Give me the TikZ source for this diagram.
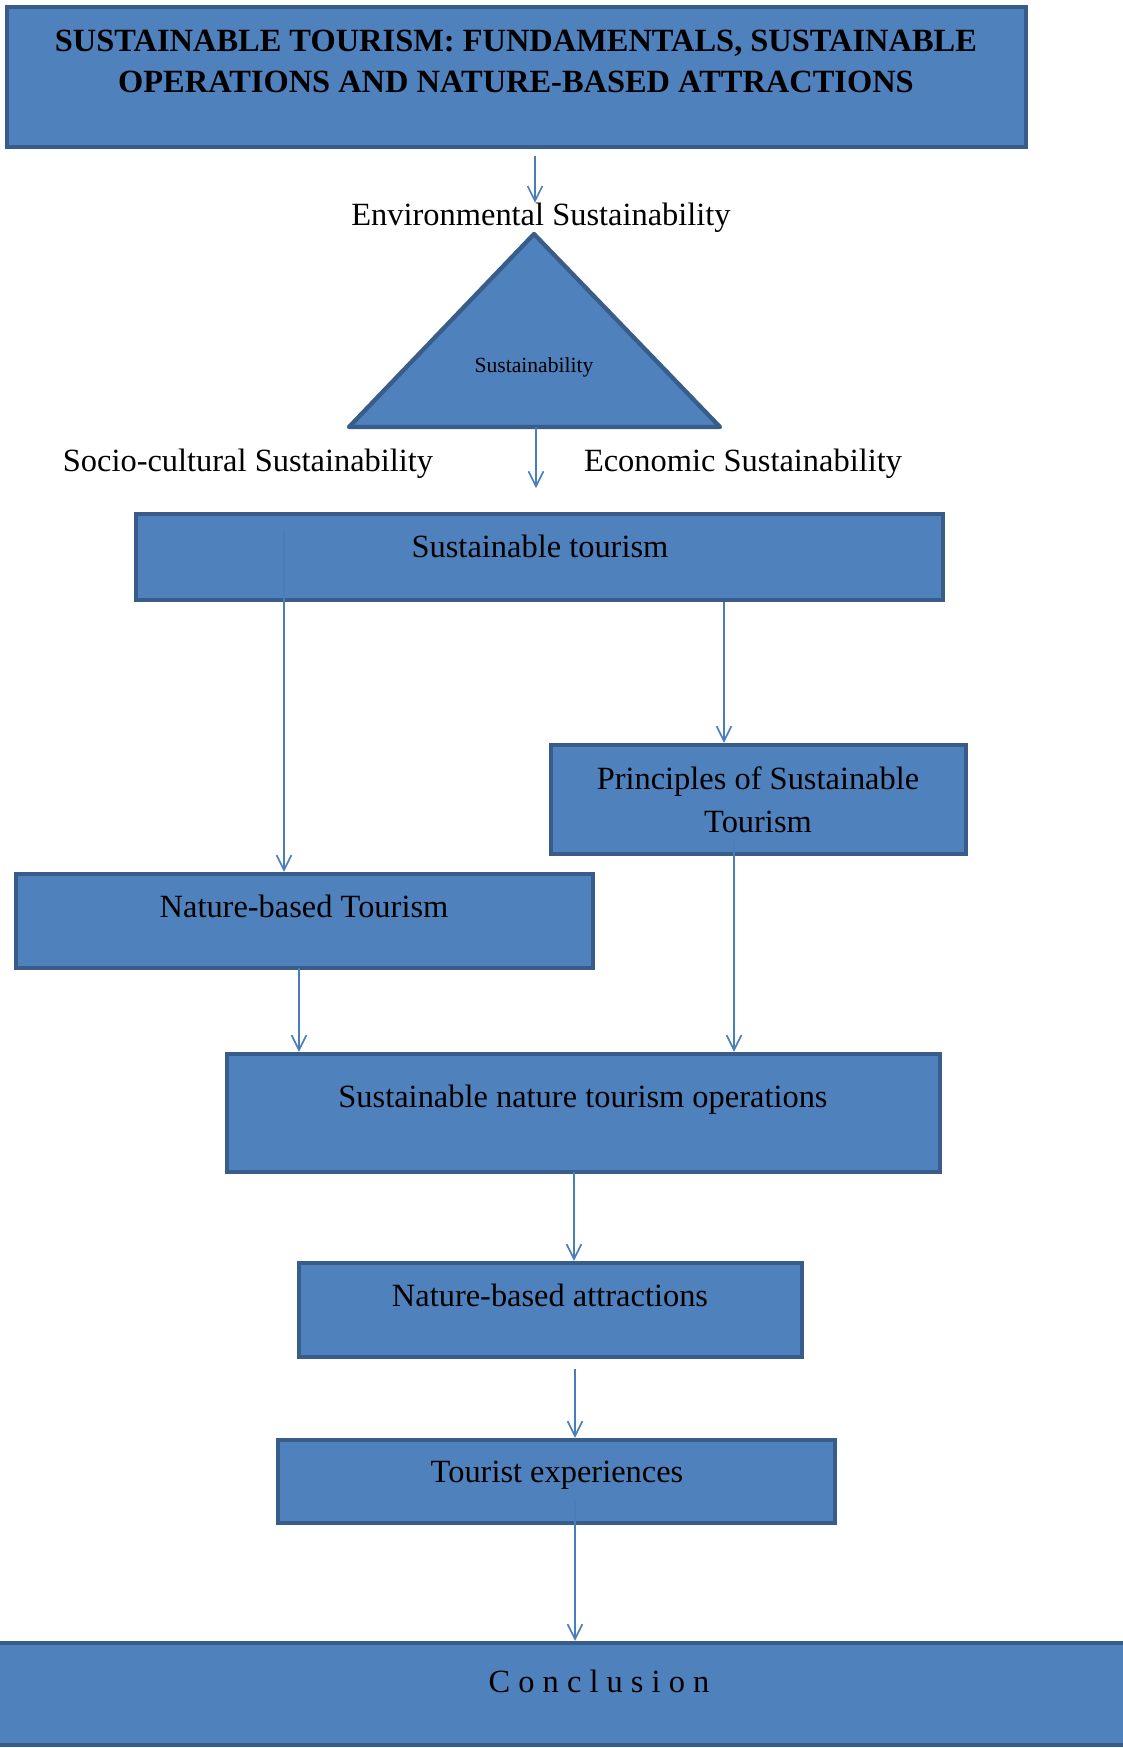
\documentclass[tikz,border=0pt]{standalone}
\usepackage{fontspec}
\setmainfont{Liberation Serif}
\usetikzlibrary{arrows.meta,fit}
\definecolor{boxfill}{HTML}{4F81BD}
\definecolor{boxedge}{HTML}{385D8A}
\definecolor{linkblue}{HTML}{4A7EBB}
\begin{document}
\begin{tikzpicture}[x=0.37pt,y=-0.37pt,
  box/.style={draw=boxedge, fill=boxfill, line width=1.6pt, inner sep=0pt},
  lbl/.style={font=\fontsize{12}{15.5}\selectfont, inner sep=0pt, align=center},
  conn/.style={draw=linkblue, line width=0.6pt, -{Straight Barb[length=5.5pt,width=5.5pt]}}]
\useasboundingbox[fill=white] (0,0) rectangle (1123,1748);

% boxes
\node[box, fit={(7,7) (1026,147)}] (title) {};
\node[box, fit={(136,514) (943,600)}] (st) {};
\node[box, fit={(551,745) (966,854)}] (prin) {};
\node[box, fit={(16,874) (593,968)}] (nbt) {};
\node[box, fit={(227,1054) (940,1172)}] (snto) {};
\node[box, fit={(299,1263) (802,1357)}] (nba) {};
\node[box, fit={(278,1440) (835,1523)}] (te) {};
\node[box, fit={(-6,1643) (1135,1745)}] (concl) {};

% sustainability triangle
\coordinate (apex) at (534,234);
\coordinate (right) at (720,427);
\coordinate (left) at (349,427);
\draw[draw=boxedge, fill=boxfill, line width=1.6pt, line join=round] (apex) -- (right) -- (left) -- cycle;
\node[font=\fontsize{8}{10}\selectfont, inner sep=0pt] (sus) at (534,367) {Sustainability};

% texts
\node[lbl, font=\fontsize{12}{15.2}\selectfont\bfseries] (titletext) at (516,61)
  {SUSTAINABLE TOURISM: FUNDAMENTALS, SUSTAINABLE\\OPERATIONS AND NATURE-BASED ATTRACTIONS};
\node[lbl] (env) at (541,218) {Environmental Sustainability};
\node[lbl] (soc) at (248,464) {Socio-cultural Sustainability};
\node[lbl] (eco) at (743,464) {Economic Sustainability};
\node[lbl] (sttext) at (540,546) {Sustainable tourism};
\node[lbl, font=\fontsize{12}{16}\selectfont] (printext) at (758,800) {Principles of Sustainable\\Tourism};
\node[lbl] (nbttext) at (304,906) {Nature-based Tourism};
\node[lbl] (sntotext) at (583,1100) {Sustainable nature tourism operations};
\node[lbl] (nbatext) at (550,1295) {Nature-based attractions};
\node[lbl] (tetext) at (557,1475) {Tourist experiences};
\node[lbl] (concltext) at (599,1681) {C o n c l u s i o n};

% connectors
\coordinate (c0) at (535,156);
\draw[conn] (c0) -- (c0 |- env.north);
\coordinate (c1) at (536,427);
\coordinate (c1e) at (536,488);
\draw[conn] (c1) -- (c1e);
\coordinate (c2) at (284,530);
\draw[conn] (c2) -- (c2 |- nbt.north);
\coordinate (c3) at (724,602);
\draw[conn] (c3) -- (c3 |- prin.north);
\coordinate (c4) at (299,968);
\draw[conn] (c4) -- (c4 |- snto.north);
\coordinate (c5) at (734,840);
\draw[conn] (c5) -- (c5 |- snto.north);
\coordinate (c6) at (574,1172);
\draw[conn] (c6) -- (c6 |- nba.north);
\coordinate (c7) at (575,1369);
\draw[conn] (c7) -- (c7 |- te.north);
\coordinate (c8) at (575,1500);
\draw[conn] (c8) -- (c8 |- concl.north);
\end{tikzpicture}
\end{document}
